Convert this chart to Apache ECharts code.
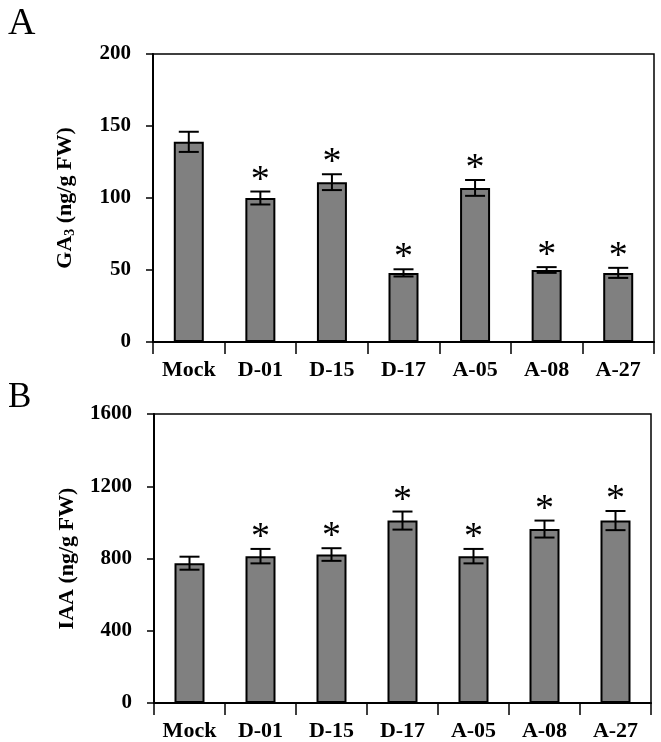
<!DOCTYPE html>
<html>
<head>
<meta charset="utf-8">
<script src="https://cdn.jsdelivr.net/npm/echarts@6/dist/echarts.min.js"></script>
<style>
html,body{margin:0;padding:0;background:#fff;}
#chart{width:661px;height:742px;}
</style>
</head>
<body>
<div id="chart"></div>
<script>
// ---- data ----
const categories = ['Mock', 'D-01', 'D-15', 'D-17', 'A-05', 'A-08', 'A-27'];
const gaValues  = [139, 100, 111, 48, 107, 50, 48];
const gaErrors  = [7, 4.5, 5.5, 2.5, 5.5, 2, 3.5];
const gaSig     = [false, true, true, true, true, true, true];
const iaaValues = [774, 813, 822, 1010, 813, 963, 1010];
const iaaErrors = [36, 40, 35, 50, 40, 47, 53];
const iaaSig    = [false, true, true, true, true, true, true];
const gaTicks = {min: 0, max: 200, interval: 50};
const iaaTicks = {min: 0, max: 1600, interval: 400};

const serif = '"Liberation Serif", "Times New Roman", serif';

function errData(vals, errs, sig) {
  return vals.map((v, i) => [i, v - errs[i], v + errs[i], sig[i] ? 1 : 0]);
}

function renderErr(params, api) {
  const x = api.value(0);
  const lo = api.coord([x, api.value(1)]);
  const hi = api.coord([x, api.value(2)]);
  const half = 10;
  const children = [
    {type: 'line', shape: {x1: lo[0], y1: lo[1], x2: hi[0], y2: hi[1]}, style: {stroke: '#000', lineWidth: 2}},
    {type: 'line', shape: {x1: lo[0] - half, y1: lo[1], x2: lo[0] + half, y2: lo[1]}, style: {stroke: '#000', lineWidth: 2}},
    {type: 'line', shape: {x1: hi[0] - half, y1: hi[1], x2: hi[0] + half, y2: hi[1]}, style: {stroke: '#000', lineWidth: 2}}
  ];
  if (api.value(3)) {
    children.push({
      type: 'text',
      style: {
        x: hi[0], y: hi[1] + 8, text: '*',
        font: '38px ' + serif, fill: '#000',
        align: 'center', verticalAlign: 'bottom'
      }
    });
  }
  return {type: 'group', children: children};
}

function xAxisFor(gi) {
  return {
    type: 'category', gridIndex: gi, data: categories,
    boundaryGap: true,
    axisLine: {lineStyle: {color: '#000', width: 2}},
    axisTick: {show: true, length: 12, lineStyle: {color: '#000', width: 1.5}, alignWithLabel: false},
    axisLabel: {margin: 17, color: '#000', fontFamily: serif, fontWeight: 'bold', fontSize: 22}
  };
}
function yAxisFor(gi, t, name) {
  return {
    type: 'value', gridIndex: gi, min: t.min, max: t.max, interval: t.interval,
    splitLine: {show: false},
    axisLine: {show: true, lineStyle: {color: '#000', width: 2}},
    axisTick: {show: true, length: 7, lineStyle: {color: '#000', width: 1.5}},
    axisLabel: {margin: 22, color: '#000', fontFamily: serif, fontWeight: 'bold', fontSize: 21,
      formatter: function (v) { return String(v); }},
    name: name, nameLocation: 'middle', nameGap: 76, nameRotate: 90,
    nameTextStyle: {
      color: '#000', fontFamily: serif, fontWeight: 'bold', fontSize: 22,
      rich: {
        a: {fontFamily: serif, fontWeight: 'bold', fontSize: 22, color: '#000'},
        s: {fontFamily: serif, fontWeight: 'bold', fontSize: 14, color: '#000', verticalAlign: 'bottom', padding: [9, 0, 0, 0]}
      }
    }
  };
}

const barStyle = {color: '#808080', borderColor: '#000', borderWidth: 2};

const option = {
  backgroundColor: '#fff',
  animation: false,
  title: [
    {text: 'A', left: 3, top: 0, textStyle: {fontFamily: serif, fontWeight: 'normal', fontSize: 38, color: '#000'}},
    {text: 'B', left: 3, top: 375, textStyle: {fontFamily: serif, fontWeight: 'normal', fontSize: 35, color: '#000'}}
  ],
  grid: [
    {left: 153, top: 54, width: 501, height: 288, show: true, borderColor: '#000', borderWidth: 1.5, backgroundColor: 'transparent'},
    {left: 154, top: 414, width: 497, height: 292, show: true, borderColor: '#000', borderWidth: 1.5, backgroundColor: 'transparent'}
  ],
  xAxis: [xAxisFor(0), xAxisFor(1)],
  yAxis: [
    yAxisFor(0, gaTicks, '{a|GA}{s|3}{a| (ng/g FW)}'),
    yAxisFor(1, iaaTicks, '{a|IAA (ng/g FW)}')
  ],
  series: [
    {type: 'bar', xAxisIndex: 0, yAxisIndex: 0, data: gaValues, barWidth: 30, itemStyle: barStyle},
    {type: 'custom', xAxisIndex: 0, yAxisIndex: 0, data: errData(gaValues, gaErrors, gaSig), renderItem: renderErr, z: 5},
    {type: 'bar', xAxisIndex: 1, yAxisIndex: 1, data: iaaValues, barWidth: 30, itemStyle: barStyle},
    {type: 'custom', xAxisIndex: 1, yAxisIndex: 1, data: errData(iaaValues, iaaErrors, iaaSig), renderItem: renderErr, z: 5}
  ]
};

const chart = echarts.init(document.getElementById('chart'), null, {renderer: 'canvas'});
chart.setOption(option);
</script>
</body>
</html>
